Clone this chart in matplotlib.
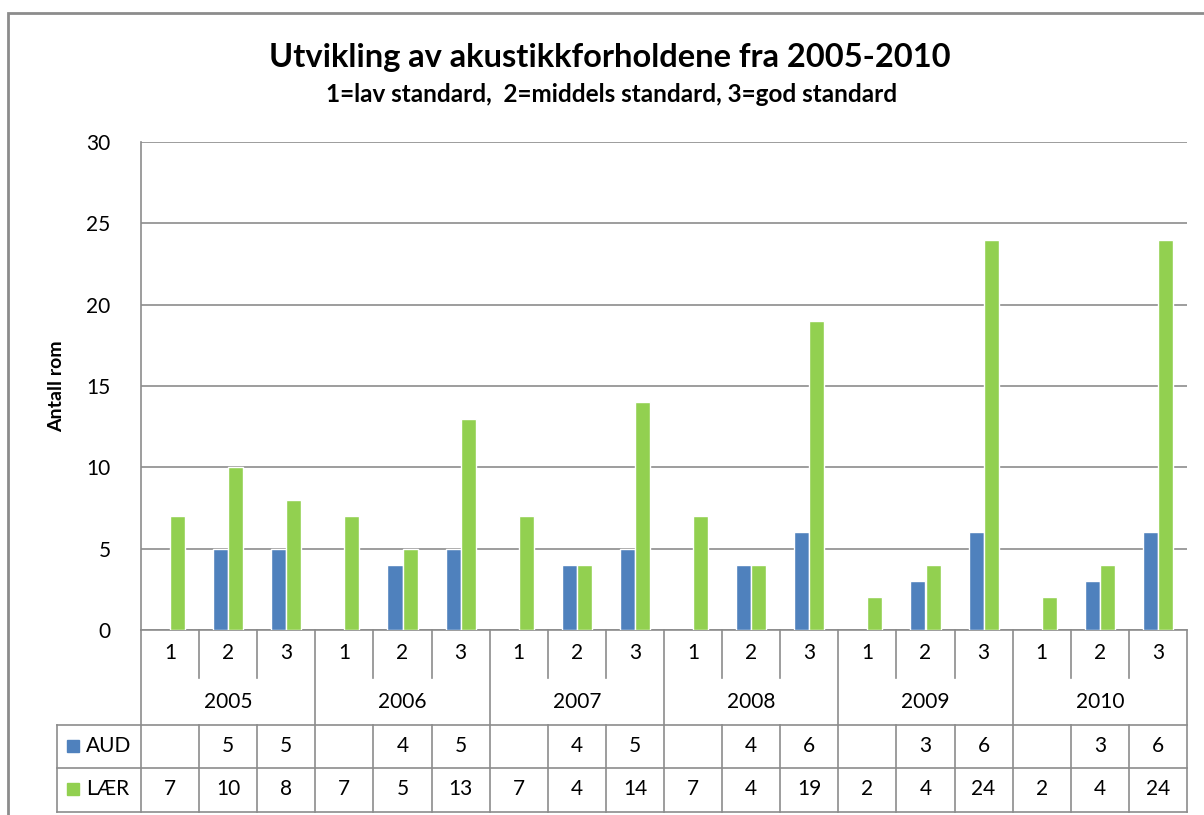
import numpy as np
import matplotlib.pyplot as plt
from matplotlib.patches import Rectangle

plt.rcParams['font.family'] = ['Lato', 'DejaVu Sans']

years = ['2005', '2006', '2007', '2008', '2009', '2010']
levels = ['1', '2', '3']
aud = [None, 5, 5, None, 4, 5, None, 4, 5, None, 4, 6, None, 3, 6, None, 3, 6]
laer = [7, 10, 8, 7, 5, 13, 7, 4, 14, 7, 4, 19, 2, 4, 24, 2, 4, 24]
series_names = ['AUD', 'LÆR']
colors = ['#4F81BD', '#92D050']

W, H = 1204, 815
fig = plt.figure(figsize=(W / 100, H / 100), dpi=100)

# outer chart frame
fig.patches.append(Rectangle((8 / W, -0.1), 1.2, 1 - 13 / H + 0.1, transform=fig.transFigure,
                             fill=False, edgecolor='#8c8c8c', lw=2))

left, right, top, bottom = 141, 1187, 142, 630
ax = fig.add_axes([left / W, 1 - bottom / H, (right - left) / W, (bottom - top) / H])

n = len(laer)
x = np.arange(n) + 0.5
bw = 0.26
aud_x = [x[i] for i in range(n) if aud[i] is not None]
aud_v = [v for v in aud if v is not None]
ax.bar(np.array(aud_x) - bw / 2, aud_v, bw, color=colors[0], edgecolor='white', lw=1, zorder=3)
ax.bar(x + bw / 2, laer, bw, color=colors[1], edgecolor='white', lw=1, zorder=3)

ax.set_xlim(0, n)
ax.set_ylim(0, 30)
ax.set_yticks(range(0, 31, 5))
ax.yaxis.grid(True, color='#8c8c8c', lw=1.2)
ax.set_axisbelow(True)
ax.tick_params(axis='y', length=0, labelsize=15, pad=22)
ax.set_xticks([])
for s in ['top', 'right', 'bottom']:
    ax.spines[s].set_visible(False)
ax.spines['left'].set_color('#8c8c8c')
ax.spines['left'].set_linewidth(1.2)
ax.set_ylabel('Antall rom', fontsize=14, fontweight='bold', labelpad=15)

# category table below plot (y in axes fraction)
ph = bottom - top
def ay(py):
    return -(py - bottom) / ph

trans = ax.get_xaxis_transform()
lc = '#8c8c8c'
kw = dict(color=lc, lw=1.2, clip_on=False, transform=trans)
x0 = -84 / (right - left) * n
ax.plot([0, n], [0, 0], **kw)
for py in (725, 768, 812):
    ax.plot([x0, n], [ay(py), ay(py)], **kw)
ax.plot([x0, x0], [ay(725), ay(812)], **kw)
for i in range(n + 1):
    if i % 3 == 0:
        ax.plot([i, i], [0, ay(812)], **kw)
    else:
        ax.plot([i, i], [0, ay(678)], **kw)
        ax.plot([i, i], [ay(725), ay(812)], **kw)

fs = 15
for i in range(n):
    ax.text(x[i], ay(653), levels[i % 3], ha='center', va='center', fontsize=fs, transform=trans)
    if aud[i] is not None:
        ax.text(x[i], ay(746), str(aud[i]), ha='center', va='center', fontsize=fs, transform=trans)
    ax.text(x[i], ay(789), str(laer[i]), ha='center', va='center', fontsize=fs, transform=trans)
for j, yr in enumerate(years):
    ax.text(3 * j + 1.5, ay(702), yr, ha='center', va='center', fontsize=fs, transform=trans)

# legend keys in table
for k, (name, c) in enumerate(zip(series_names, colors)):
    yc = 746 if k == 0 else 789
    fig.patches.append(Rectangle((67 / W, 1 - (yc + 6) / H), 12 / W, 12 / H,
                                 transform=fig.transFigure, color=c))
    fig.text(86 / W, 1 - yc / H, name, ha='left', va='center', fontsize=fs)

fig.text(610 / W, 1 - 57 / H, 'Utvikling av akustikkforholdene fra 2005-2010',
         ha='center', va='center', fontsize=23.5, fontweight='bold')
fig.text(612 / W, 1 - 95 / H, '1=lav standard,  2=middels standard, 3=god standard',
         ha='center', va='center', fontsize=17.5, fontweight='bold')

fig.savefig('out.png', dpi=100)
